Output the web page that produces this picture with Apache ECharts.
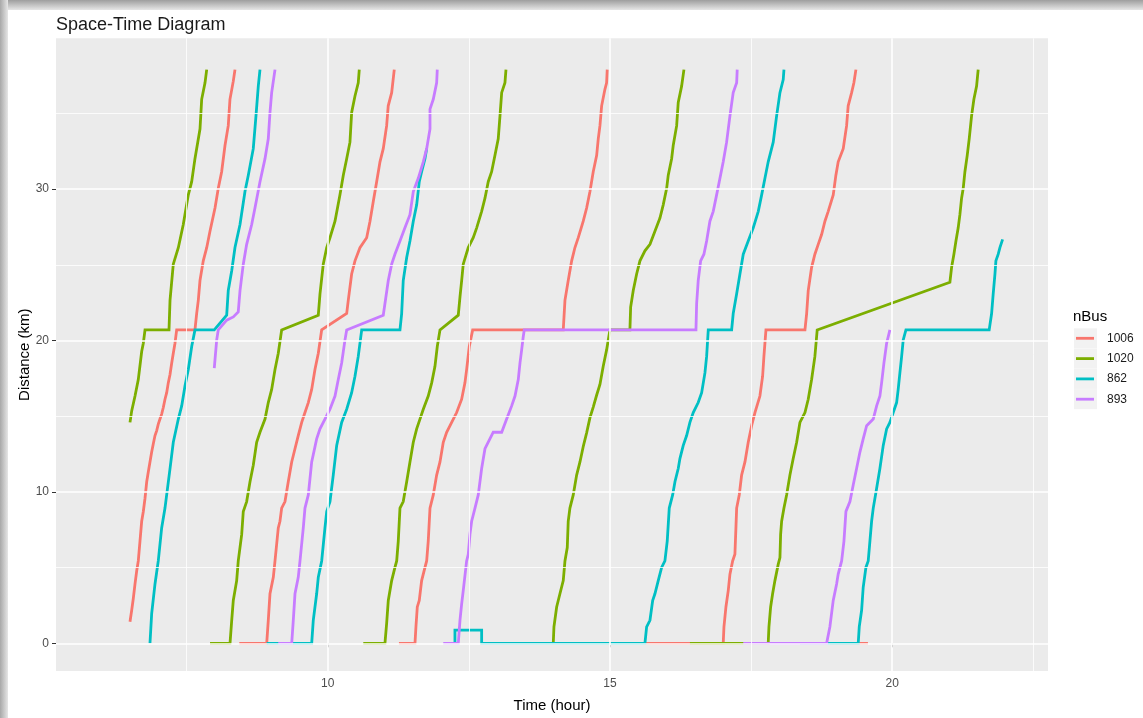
<!DOCTYPE html>
<html><head><meta charset="utf-8">
<script src="https://cdn.jsdelivr.net/npm/echarts@6/dist/echarts.min.js"></script>
<style>html,body{margin:0;padding:0;background:#fff}#c{width:1143px;height:718px}</style>
</head><body><div id="c"></div>
<script>
// ---- data (time in hours, distance in km) ----
const busNames  = ['1006', '1020', '862', '893'];
const busColors = ['#F8766D', '#7CAE00', '#00BFC4', '#C77CFF'];
const xTickValues = [10, 15, 20];
const yTickValues = [0, 10, 20, 30];
const xMinorGrid = [7.5, 12.5, 17.5, 22.5];
const yMinorGrid = [5, 15, 25, 35];

const bus1006_trip1 = [[6.496,1.42],[6.526,2.18],[6.554,2.94],[6.585,3.92],[6.615,4.79],[6.643,5.44],[6.673,6.75],[6.703,8.06],[6.732,8.71],[6.762,9.58],[6.792,10.67],[6.820,11.32],[6.850,11.98],[6.880,12.63],[6.909,13.18],[6.939,13.72],[6.969,14.05],[6.997,14.48],[7.027,14.81],[7.057,15.14],[7.086,15.57],[7.116,16.12],[7.146,16.55],[7.174,17.20],[7.205,17.75],[7.235,18.51],[7.263,19.16],[7.293,19.82],[7.323,20.70],[7.647,20.70],[7.677,21.78],[7.706,22.65],[7.736,23.96],[7.794,25.26],[7.855,26.13],[7.913,27.22],[8.002,28.75],[8.060,30.05],[8.120,31.15],[8.179,32.88],[8.237,34.19],[8.267,35.93],[8.326,37.13],[8.356,37.89]];
const bus1006_trip2 = [[8.432,0],[8.918,0],[8.946,1.52],[8.976,3.27],[9.035,4.36],[9.065,5.44],[9.123,7.62],[9.153,8.06],[9.183,8.93],[9.242,9.36],[9.300,10.67],[9.361,11.98],[9.419,12.85],[9.477,13.72],[9.538,14.59],[9.596,15.24],[9.655,15.90],[9.715,16.77],[9.773,18.08],[9.832,19.16],[9.892,20.70],[10.335,21.78],[10.363,22.65],[10.423,24.39],[10.482,25.26],[10.570,26.13],[10.689,26.79],[10.748,27.88],[10.806,29.18],[10.866,30.49],[10.925,31.80],[10.983,32.67],[11.043,34.19],[11.071,35.50],[11.132,36.37],[11.178,37.89]];
const bus1006_trip3 = [[11.261,0],[11.545,0],[11.562,1.09],[11.586,2.40],[11.621,2.83],[11.663,4.14],[11.722,5.01],[11.752,5.44],[11.780,6.75],[11.811,8.93],[11.869,9.80],[11.929,11.11],[11.988,11.98],[12.046,13.28],[12.106,13.94],[12.195,14.59],[12.283,15.24],[12.372,16.12],[12.430,17.20],[12.460,18.08],[12.507,19.60],[12.567,20.70],[14.172,20.70],[14.202,22.65],[14.260,23.96],[14.321,25.26],[14.379,26.14],[14.438,26.79],[14.526,27.88],[14.586,28.75],[14.645,29.84],[14.703,31.15],[14.764,32.23],[14.792,33.32],[14.822,34.19],[14.852,35.50],[14.910,36.59],[14.940,37.02],[14.951,37.89]];
const bus1006_trip4 = [[15.637,0],[17.006,0],[17.019,1.09],[17.054,2.40],[17.095,3.48],[17.125,4.57],[17.173,5.44],[17.213,5.88],[17.231,7.62],[17.244,8.93],[17.290,9.80],[17.332,11.11],[17.391,11.98],[17.449,13.28],[17.509,14.37],[17.568,15.24],[17.656,16.33],[17.704,17.64],[17.727,18.95],[17.763,20.70],[18.454,20.70],[18.484,21.78],[18.512,23.30],[18.572,24.83],[18.630,25.70],[18.689,26.35],[18.749,27.00],[18.808,27.88],[18.866,28.53],[18.955,29.62],[19.002,30.92],[19.043,31.80],[19.132,32.67],[19.192,34.19],[19.220,35.50],[19.281,36.37],[19.321,37.02],[19.357,37.89]];
const bus1006_trip5 = [[18.90,0],[19.57,0]];

const bus1020_trip1 = [[6.496,14.59],[6.526,15.35],[6.585,16.33],[6.643,17.42],[6.703,19.27],[6.732,19.82],[6.762,20.70],[7.187,20.70],[7.205,22.65],[7.263,25.04],[7.352,26.13],[7.440,27.66],[7.529,29.62],[7.589,30.49],[7.647,32.01],[7.736,33.97],[7.766,35.93],[7.825,37.02],[7.855,37.89]];
const bus1020_trip2 = [[7.914,0],[8.268,0],[8.298,1.52],[8.326,2.83],[8.386,4.14],[8.414,5.44],[8.475,7.19],[8.503,8.71],[8.563,9.36],[8.622,10.67],[8.680,11.76],[8.740,13.28],[8.799,13.94],[8.888,14.81],[8.946,15.90],[9.006,16.77],[9.065,18.08],[9.123,19.16],[9.183,20.70],[9.832,21.67],[9.862,23.08],[9.920,25.04],[9.981,26.13],[10.039,26.79],[10.128,27.88],[10.216,29.62],[10.275,30.92],[10.335,32.01],[10.393,33.10],[10.423,35.06],[10.482,36.15],[10.540,37.02],[10.558,37.89]];
const bus1020_trip3 = [[10.629,0],[11.013,0],[11.043,1.31],[11.072,2.83],[11.132,4.14],[11.190,5.01],[11.221,5.44],[11.249,6.75],[11.279,8.93],[11.337,9.36],[11.398,10.67],[11.456,11.98],[11.515,13.28],[11.575,14.16],[11.633,14.81],[11.692,15.46],[11.780,16.33],[11.841,17.20],[11.899,18.29],[11.940,19.60],[11.988,20.70],[12.312,21.67],[12.342,22.87],[12.372,23.96],[12.400,25.04],[12.489,26.14],[12.577,26.79],[12.638,27.44],[12.726,28.53],[12.785,29.40],[12.843,30.49],[12.903,31.15],[12.962,32.23],[13.020,33.32],[13.051,34.84],[13.081,36.37],[13.139,37.02],[13.157,37.89]];
const bus1020_trip4 = [[13.995,0],[14.007,1.09],[14.055,2.40],[14.113,3.27],[14.172,4.14],[14.202,5.44],[14.243,6.32],[14.260,8.06],[14.290,8.93],[14.349,9.80],[14.409,11.11],[14.468,11.98],[14.526,13.00],[14.586,13.90],[14.645,14.90],[14.703,15.60],[14.764,16.40],[14.822,17.10],[14.880,18.30],[14.940,19.38],[14.999,20.70],[15.353,20.70],[15.366,22.21],[15.412,23.30],[15.472,24.39],[15.531,25.26],[15.619,25.92],[15.708,26.35],[15.796,27.22],[15.885,28.09],[15.943,28.96],[16.004,30.05],[16.032,30.92],[16.092,32.01],[16.120,32.88],[16.181,34.19],[16.209,35.72],[16.269,36.80],[16.310,37.89]];
const bus1020_trip5 = [[16.416,0],[17.803,0],[17.816,1.09],[17.846,2.40],[17.881,3.27],[17.922,4.14],[17.981,5.23],[18.011,5.66],[18.023,7.19],[18.041,8.06],[18.082,8.93],[18.129,9.80],[18.188,11.11],[18.246,12.20],[18.307,13.28],[18.365,14.59],[18.454,15.24],[18.512,16.12],[18.572,17.42],[18.630,18.95],[18.671,20.70],[21.022,23.85],[21.052,24.83],[21.093,25.70],[21.129,26.57],[21.169,27.44],[21.199,28.31],[21.229,29.40],[21.258,30.05],[21.288,31.15],[21.329,32.23],[21.364,33.32],[21.406,34.84],[21.447,35.93],[21.495,36.80],[21.523,37.89]];

const bus862_trip1 = [[6.850,0],[6.880,1.96],[6.939,3.92],[6.997,5.44],[7.057,7.62],[7.116,8.93],[7.205,11.54],[7.263,13.28],[7.352,14.81],[7.412,15.68],[7.470,16.99],[7.529,18.08],[7.589,19.60],[7.647,20.70],[7.989,20.70],[8.209,21.67],[8.237,23.30],[8.298,24.61],[8.356,26.14],[8.445,27.66],[8.533,29.84],[8.592,30.92],[8.680,32.67],[8.728,34.84],[8.769,36.80],[8.799,37.89]];
const bus862_trip2 = [[8.918,0],[9.715,0],[9.743,1.52],[9.803,3.27],[9.832,4.36],[9.892,5.44],[9.950,7.62],[9.981,8.71],[10.039,9.36],[10.097,11.11],[10.158,13.07],[10.246,14.59],[10.335,15.46],[10.423,16.55],[10.482,17.64],[10.540,18.95],[10.601,20.70],[11.279,20.70],[11.309,21.78],[11.337,23.96],[11.398,25.48],[11.456,26.57],[11.515,27.88],[11.575,28.96],[11.621,30.49],[11.663,31.15],[11.722,32.01],[11.752,32.67]];
const bus862_trip3 = [[12.253,0],[12.253,0.87],[12.726,0.87],[12.726,0],[15.619,0],[15.649,1.09],[15.708,1.52],[15.756,2.83],[15.796,3.27],[15.855,4.14],[15.915,5.01],[15.973,5.44],[16.014,6.75],[16.050,8.93],[16.110,9.80],[16.151,10.67],[16.209,11.54],[16.239,12.20],[16.298,13.07],[16.358,13.72],[16.416,14.59],[16.475,15.24],[16.563,15.90],[16.624,16.55],[16.682,17.86],[16.712,18.95],[16.741,20.70],[17.155,20.70],[17.183,21.78],[17.244,23.08],[17.302,24.39],[17.361,25.70],[17.449,26.57],[17.538,27.44],[17.627,28.53],[17.687,29.62],[17.745,30.71],[17.803,31.80],[17.892,33.10],[17.952,34.84],[18.011,36.37],[18.069,37.24],[18.082,37.89]];
const bus862_trip4 = [[18.365,0],[19.398,0],[19.416,1.09],[19.458,2.18],[19.486,3.70],[19.534,5.01],[19.575,5.44],[19.605,6.75],[19.635,8.06],[19.664,8.93],[19.724,10.24],[19.782,11.54],[19.841,13.07],[19.901,14.16],[19.959,14.59],[20.018,15.24],[20.078,15.90],[20.106,16.77],[20.136,17.86],[20.167,18.95],[20.195,20.04],[20.243,20.70],[21.718,20.70],[21.761,21.78],[21.789,23.08],[21.820,24.39],[21.837,25.26],[21.878,25.70],[21.908,26.14],[21.956,26.68]];

const bus893_trip1 = [[7.989,18.18],[8.032,20.04],[8.060,20.70],[8.209,21.34],[8.326,21.56],[8.414,21.89],[8.445,23.30],[8.503,25.04],[8.563,26.35],[8.652,27.66],[8.710,28.75],[8.799,30.49],[8.888,32.01],[8.946,33.32],[8.976,35.06],[9.006,36.37],[9.065,37.89]];
const bus893_trip2 = [[9.123,0],[9.361,0],[9.389,1.52],[9.419,3.27],[9.477,4.36],[9.508,5.44],[9.566,7.62],[9.596,8.93],[9.655,9.80],[9.715,11.98],[9.803,13.50],[9.862,14.16],[9.950,14.81],[10.039,15.46],[10.128,16.33],[10.186,17.42],[10.246,18.51],[10.305,20.04],[10.335,20.70],[10.983,21.67],[11.072,23.96],[11.132,25.04],[11.190,25.70],[11.279,26.57],[11.367,27.44],[11.456,28.31],[11.515,29.84],[11.603,30.71],[11.692,31.80],[11.752,32.67],[11.811,33.97],[11.811,35.28],[11.869,35.93],[11.929,37.02],[11.940,37.89]];
const bus893_trip3 = [[12.046,0],[12.312,0],[12.342,1.52],[12.372,2.61],[12.400,3.48],[12.460,5.44],[12.489,5.88],[12.519,7.19],[12.549,8.06],[12.608,8.93],[12.666,9.80],[12.726,11.54],[12.785,12.85],[12.843,13.28],[12.932,13.94],[13.081,13.94],[13.169,14.81],[13.258,15.68],[13.317,16.33],[13.375,17.42],[13.405,18.51],[13.435,19.38],[13.463,20.25],[13.481,20.70],[16.523,20.70],[16.535,22.43],[16.563,23.96],[16.606,25.26],[16.664,25.70],[16.712,26.57],[16.770,27.88],[16.829,28.53],[16.889,29.62],[16.948,30.71],[17.006,31.80],[17.066,33.10],[17.125,34.84],[17.183,36.37],[17.244,37.02],[17.254,37.89]];
const bus893_trip4 = [[17.361,0],[18.838,0],[18.896,1.09],[18.955,2.83],[19.015,3.92],[19.043,4.57],[19.104,5.44],[19.145,6.75],[19.180,8.71],[19.251,9.36],[19.309,10.45],[19.369,11.54],[19.428,12.63],[19.486,13.50],[19.547,14.37],[19.664,14.81],[19.724,15.68],[19.782,16.33],[19.812,17.20],[19.853,18.51],[19.901,19.82],[19.959,20.70]];

const tripsByBus = [
  [bus1006_trip1, bus1006_trip2, bus1006_trip3, bus1006_trip4, bus1006_trip5],
  [bus1020_trip1, bus1020_trip2, bus1020_trip3, bus1020_trip4, bus1020_trip5],
  [bus862_trip1, bus862_trip2, bus862_trip3, bus862_trip4],
  [bus893_trip1, bus893_trip2, bus893_trip3, bus893_trip4]
];

// ---- layout ----
const FONT = "'Liberation Sans', Arial, sans-serif";
const X_MIN = 5.185, X_MAX = 22.76, Y_MIN = -1.83, Y_MAX = 39.96;

const series = [];
// gridlines drawn through the axes' own scales
const gridLine = (axis, v, w) => ({ [axis]: v, lineStyle: { color: '#FFFFFF', width: w, type: 'solid' } });
series.push({
  type: 'line', name: '_grid', z: 1, silent: true, data: [], showSymbol: false,
  lineStyle: { opacity: 0 },
  markLine: {
    silent: true, symbol: ['none', 'none'], label: { show: false }, animation: false,
    emphasis: { disabled: true },
    data: [
      ...xMinorGrid.map(v => gridLine('xAxis', v, 0.8)),
      ...yMinorGrid.map(v => gridLine('yAxis', v, 0.8)),
      ...xTickValues.map(v => gridLine('xAxis', v, 1.6)),
      ...yTickValues.map(v => gridLine('yAxis', v, 1.6))
    ]
  }
});
tripsByBus.forEach((trips, i) => {
  trips.forEach(trip => {
    series.push({
      type: 'line', name: busNames[i], z: 3, data: trip, showSymbol: false, symbol: 'none',
      color: busColors[i], silent: true, animation: false,
      lineStyle: { color: busColors[i], width: 2.8, cap: 'butt', join: 'miter' },
      emphasis: { disabled: true }
    });
  });
});

const keyTop = 328.3, keyStep = 20.3;
const keyRects = busNames.map((n, i) => ({
  type: 'rect', left: 1074, top: keyTop + i * keyStep, z: 0, silent: true,
  shape: { width: 23, height: 20 }, style: { fill: '#F2F2F2' }
}));

const chart = echarts.init(document.getElementById('c'), null, { renderer: 'canvas' });
chart.setOption({
  animation: false,
  backgroundColor: '#FFFFFF',
  textStyle: { fontFamily: FONT },
  title: [
    { text: 'Space-Time Diagram', left: 56, top: 16, padding: 0,
      textStyle: { fontSize: 18, fontWeight: 'normal', color: '#1A1A1A', fontFamily: FONT } },
    { text: 'nBus', left: 1073, top: 309, padding: 0,
      textStyle: { fontSize: 15, fontWeight: 'normal', color: '#000000', fontFamily: FONT } }
  ],
  graphic: [
    { type: 'rect', left: 0, top: 0, z: -10, silent: true, shape: { width: 1143, height: 10 },
      style: { fill: new echarts.graphic.LinearGradient(0, 0, 0, 1, [{ offset: 0, color: '#9E9E9E' }, { offset: 1, color: '#E6E6E6' }]) } },
    { type: 'rect', left: 0, top: 0, z: -10, silent: true, shape: { width: 8, height: 718 },
      style: { fill: new echarts.graphic.LinearGradient(0, 0, 1, 0, [{ offset: 0, color: '#A8A8A8' }, { offset: 1, color: '#E6E6E6' }]) } },
    ...keyRects
  ],
  legend: {
    orient: 'vertical', left: 1076, top: keyTop, padding: 0, itemGap: keyStep - 20,
    data: busNames, icon: 'rect', itemWidth: 18, itemHeight: 2.8,
    selectedMode: false,
    textStyle: { fontSize: 12, color: '#1A1A1A', lineHeight: 20, height: 20, padding: [0, 0, 0, 8], fontFamily: FONT }
  },
  grid: {
    left: 56, right: 95, top: 38.3, bottom: 40, show: true,
    backgroundColor: '#EBEBEB', borderWidth: 0, containLabel: false
  },
  xAxis: {
    type: 'value', min: X_MIN, max: X_MAX,
    name: 'Time (hour)', nameLocation: 'middle', nameGap: 27,
    nameTextStyle: { fontSize: 15, color: '#000000', fontFamily: FONT },
    axisLine: { show: false },
    axisTick: { show: true, customValues: xTickValues, length: 4, lineStyle: { color: '#333333', width: 1 } },
    axisLabel: { customValues: xTickValues, fontSize: 12, color: '#4D4D4D', margin: 7, fontFamily: FONT },
    splitLine: { show: false }
  },
  yAxis: {
    type: 'value', min: Y_MIN, max: Y_MAX,
    name: 'Distance (km)', nameLocation: 'middle', nameGap: 24, nameRotate: 90, nameMoveOverlap: false,
    nameTextStyle: { fontSize: 15, color: '#000000', fontFamily: FONT },
    axisLine: { show: false },
    axisTick: { show: true, customValues: yTickValues, length: 4, lineStyle: { color: '#333333', width: 1 } },
    axisLabel: { customValues: yTickValues, fontSize: 12, color: '#4D4D4D', margin: 7, fontFamily: FONT },
    splitLine: { show: false }
  },
  series
});
</script>
</body></html>
